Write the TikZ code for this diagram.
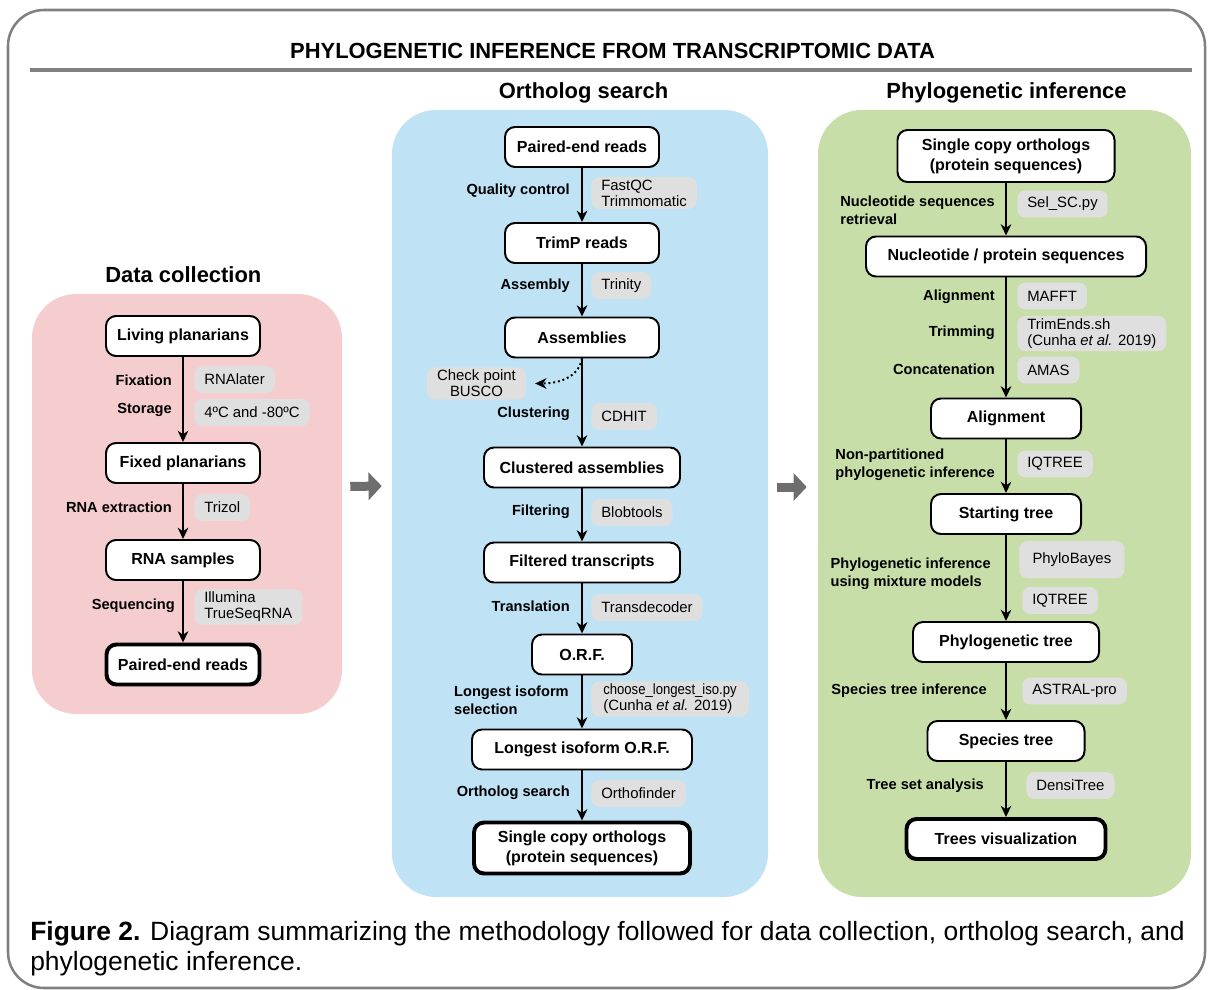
\documentclass[tikz,border=0pt]{standalone}
\usepackage{fontspec}
\setmainfont{Liberation Sans}
\usepackage{graphicx}
\usetikzlibrary{positioning}
\usetikzlibrary{arrows.meta}
\usetikzlibrary{calc}
\definecolor{framegray}{RGB}{128,128,128}
\definecolor{arrgray}{RGB}{110,110,110}
\definecolor{pinkbg}{RGB}{246,205,207}
\definecolor{bluebg}{RGB}{191,226,245}
\definecolor{greenbg}{RGB}{200,222,168}
\definecolor{toolgray}{RGB}{223,223,223}
\tikzset{>={Stealth[length=8pt,width=7.5pt,inset=2.5pt]}}
\tikzset{boxw/.style={minimum width=#1*0.025cm}}
\tikzset{boxh/.style={minimum height=#1*0.025cm}}
\tikzset{stepnode/.style={draw, rounded corners=0.25cm, line width=1.4pt, fill=white, minimum height=1.0cm, inner sep=2pt, align=center, font=\bfseries\fontsize{11.4}{14.2}\selectfont}}
\tikzset{endnode/.style={stepnode, line width=2.8pt}}
\tikzset{lab/.style={anchor=east, inner sep=0pt, align=left, font=\bfseries\fontsize{10.4}{12.5}\selectfont}}
\tikzset{tool/.style={anchor=west, fill=toolgray, rounded corners=0.2cm, inner xsep=0.25cm, inner ysep=2pt, minimum height=0.67cm, align=left, font=\fontsize{10.6}{11.2}\selectfont}}
\tikzset{panel/.style={rounded corners=1.1cm, inner sep=0pt}}
\tikzset{head/.style={inner sep=2pt, text height=11.5pt, text depth=3.5pt, font=\bfseries\fontsize{15.6}{18}\selectfont}}
\tikzset{flow/.style={->, line width=1.4pt}}
\tikzset{blockarr/.style={arrgray, line width=0.225cm, -{Triangle[length=0.33cm,width=0.68cm]}}}

\begin{document}
\begin{tikzpicture}[x=0.025cm, y=-0.025cm]
    \useasboundingbox (0,0) rectangle (1208,990);

    % panels
    \node[panel, fill=pinkbg, boxw=310, boxh=420] (dcpanel) at (187,504) {};
    \node[panel, fill=bluebg, boxw=376, boxh=787] (ospanel) at (580,503.5) {};
    \node[panel, fill=greenbg, boxw=373, boxh=787] (pipanel) at (1004.5,503.5) {};

    \draw[framegray, line width=1.8pt, rounded corners=0.9cm] (8,10) rectangle (1205,988);
    \node[head] (maintitle) at (612.5,53) {PHYLOGENETIC INFERENCE FROM TRANSCRIPTOMIC DATA};
    \draw[framegray, line width=2.5pt] (30,70) -- (1192,70);

    \node[head, above=2.5pt of dcpanel, xshift=-0.09cm] (dctitle) {Data collection};
    \node[head, above=2.5pt of ospanel, xshift=0.09cm] (ostitle) {Ortholog search};
    \node[head, above=2.5pt of pipanel, xshift=0.05cm] (pititle) {Phylogenetic inference};

    \draw[blockarr] ($(dcpanel.east)+(8,-17.5)$) -- ($(ospanel.west)+(-10,-17.5)$);
    \draw[blockarr] ($(ospanel.east)+(9,-16.5)$) -- ($(pipanel.west)+(-11,-16.5)$);

    % data collection
    \node[stepnode, boxw=154] (lp) at (183,336) {Living planarians};
    \node[stepnode, boxw=154] (fp) at (183,463) {Fixed planarians};
    \node[stepnode, boxw=154] (rs) at (183,560) {RNA samples};
    \node[endnode, boxw=153] (pr1) at (183,664.5) {Paired-end reads};

    \draw[flow] (lp) -- (fp);
    \draw[flow] (fp) -- (rs);
    \draw[flow] (rs) -- (pr1);

    \node[lab] (fixl) at (172,380) {Fixation};
    \node[lab] (stol) at (172,410) {Storage};
    \node[lab] (rnal) at (172,507) {RNA extraction};
    \node[lab] (seql) at (175,606) {Sequencing};

    \node[tool] (rnalater) at (194,379.5) {RNAlater};
    \node[tool] (temps) at (194,412.5) {4ºC and -80ºC};
    \node[tool] (trizol) at (194,507.5) {Trizol};
    \node[tool] (illu) at (194,607) {Illumina\\TrueSeqRNA};

    % ortholog search
    \node[stepnode, boxw=154] (pr2) at (582,147) {Paired-end reads};
    \node[stepnode, boxw=154] (trp) at (582,243) {TrimP reads};
    \node[stepnode, boxw=154] (asm) at (582,337.5) {Assemblies};
    \node[stepnode, boxw=196] (casm) at (582,467.5) {Clustered assemblies};
    \node[stepnode, boxw=196] (ftr) at (582,562.5) {Filtered transcripts};
    \node[stepnode, boxw=100] (orf) at (582,654.5) {O.R.F.};
    \node[stepnode, boxw=220] (liorf) at (582,749.5) {Longest isoform O.R.F.};
    \node[endnode, boxw=216, boxh=51] (sco1) at (582,848) {Single copy orthologs\\(protein sequences)};

    \draw[flow] (pr2) -- (trp);
    \draw[flow] (trp) -- (asm);
    \draw[flow] (asm) -- (casm);
    \draw[flow] (casm) -- (ftr);
    \draw[flow] (ftr) -- (orf);
    \draw[flow] (orf) -- (liorf);
    \draw[flow] (liorf) -- (sco1);

    \node[lab] (qcl) at (570,191) {Quality control};
    \node[lab] (asml) at (570,286) {Assembly};
    \node[lab] (clul) at (570,414) {Clustering};
    \node[lab] (filtl) at (570,512) {Filtering};
    \node[lab] (tral) at (570,606) {Translation};
    \node[lab] (lisl) at (569,700.5) {Longest isoform\\selection};
    \node[lab] (orsl) at (570,793) {Ortholog search};

    \node[tool] (fastqc) at (591,193) {FastQC\\Trimmomatic};
    \node[tool] (trinity) at (591,285.5) {Trinity};
    \node[tool] (cdhit) at (591,416.5) {CDHIT};
    \node[tool] (blob) at (591,512.5) {Blobtools};
    \node[tool] (transd) at (591,607.5) {Transdecoder};
    \node[tool, inner xsep=0.3cm] (chlong) at (591,699) {\scalebox{0.88}[1]{choose\_longest\_iso.py}\\(Cunha \textit{et al.} 2019)};
    \node[tool] (orthof) at (591,793.5) {Orthofinder};
    \node[tool, anchor=center, align=center] (busco) at (476.5,383.5) {Check point\\BUSCO};

    \draw[flow, dotted] (asm.south) to[out=-100, in=0] ($(busco.east)+(9,0)$);

    % phylogenetic inference
    \node[stepnode, boxw=217, boxh=52] (sco2) at (1006,156) {Single copy orthologs\\(protein sequences)};
    \node[stepnode, boxw=280] (nps) at (1006,256.5) {Nucleotide / protein sequences};
    \node[stepnode, boxw=150] (aln) at (1006,418.5) {Alignment};
    \node[stepnode, boxw=150] (strt) at (1006,514) {Starting tree};
    \node[stepnode, boxw=186] (phyt) at (1006,642) {Phylogenetic tree};
    \node[stepnode, boxw=157] (spt) at (1006,741) {Species tree};
    \node[endnode, boxw=199] (trv) at (1006,839) {Trees visualization};

    \draw[flow] (sco2) -- (nps);
    \draw[flow] (nps) -- (aln);
    \draw[flow] (aln) -- (strt);
    \draw[flow] (strt) -- (phyt);
    \draw[flow] (phyt) -- (spt);
    \draw[flow] (spt) -- (trv);

    \node[lab] (nsrl) at (995,210) {Nucleotide sequences\\retrieval};
    \node[lab] (alnl) at (995,297) {Alignment};
    \node[lab] (triml) at (995,333) {Trimming};
    \node[lab] (concl) at (995,369) {Concatenation};
    \node[lab] (npl) at (995,464.5) {Non-partitioned\\phylogenetic inference};
    \node[lab] (mixl) at (991,574) {Phylogenetic inference\\using mixture models};
    \node[lab] (sptl) at (987,691) {Species tree inference};
    \node[lab] (tsal) at (984,786) {Tree set analysis};

    \node[tool] (selsc) at (1017,204) {Sel\_SC.py};
    \node[tool] (mafft) at (1017,296) {MAFFT};
    \node[tool] (trimends) at (1017,333.5) {TrimEnds.sh\\(Cunha \textit{et al.} 2019)};
    \node[tool] (amas) at (1017,370) {AMAS};
    \node[tool] (iqt1) at (1017,464) {IQTREE};
    \node[tool, minimum height=0.925cm, inner xsep=0.33cm] (phylob) at (1019,559.5) {PhyloBayes};
    \node[tool] (iqt2) at (1022,600.5) {IQTREE};
    \node[tool] (astral) at (1022,691) {ASTRAL-pro};
    \node[tool] (densi) at (1026,785.5) {DensiTree};

    % caption
    \node[anchor=north west, inner sep=0pt, align=left, font=\fontsize{18.8}{21.4}\selectfont] (caption) at (30,921)
      {\textbf{Figure 2.} Diagram summarizing the methodology followed for data collection, ortholog search, and\\phylogenetic inference.};
\end{tikzpicture}
\end{document}
